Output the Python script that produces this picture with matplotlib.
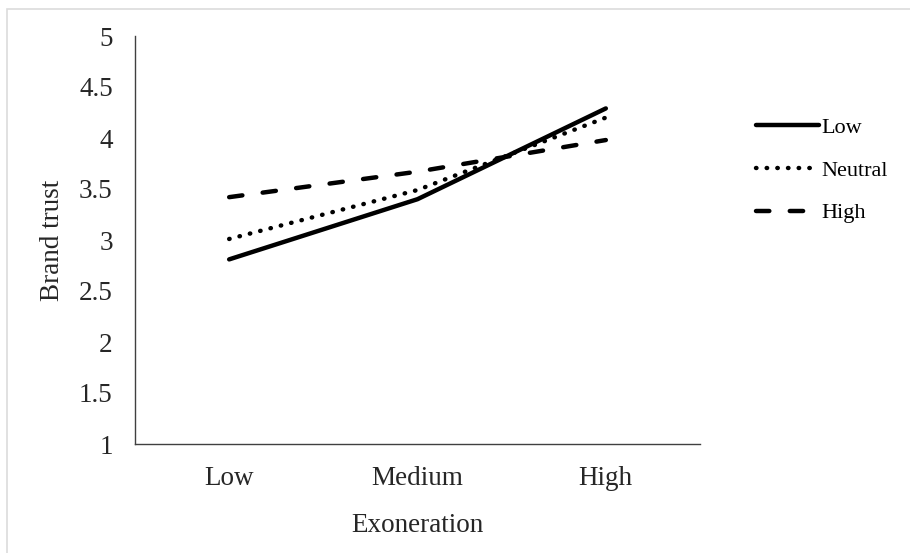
import matplotlib
matplotlib.use("Agg")
import matplotlib.pyplot as plt
from matplotlib.patches import Rectangle

# data
categories = ["Low", "Medium", "High"]
low_vals = [2.81, 3.40, 4.29]
neutral_vals = [3.01, 3.49, 4.20]
high_vals = [3.42, 3.67, 3.98]
series_names = ["Low", "Neutral", "High"]
yticks = [1, 1.5, 2, 2.5, 3, 3.5, 4, 4.5, 5]
ytick_labels = ["1", "1.5", "2", "2.5", "3", "3.5", "4", "4.5", "5"]

plt.rcParams['font.family'] = ['Liberation Serif', 'DejaVu Serif']

fig = plt.figure(figsize=(9.1, 5.53), dpi=100)
ax = fig.add_axes([135/910, 1 - 444/553, (700-135)/910, (444-36)/553])

# light gray frame (cropped at right/bottom)
fig.patches.append(Rectangle((7/910, -0.1), 1.2, (553-9)/553 + 0.1,
                             transform=fig.transFigure, fill=False,
                             edgecolor='#dcdcdc', linewidth=1.2))

x = range(len(categories))
ax.plot(x, low_vals, color='black', lw=3.2, linestyle='-',
        solid_capstyle='round', label=series_names[0])
ax.plot(x, neutral_vals, color='black', lw=3.2, linestyle=(0, (0.1, 2.3)),
        dash_capstyle='round', label=series_names[1])
ax.plot(x, high_vals, color='black', lw=3.2, linestyle=(0, (3.0, 4.6)),
        dash_capstyle='round', label=series_names[2])

ax.set_xlim(-0.5, 2.5)
ax.set_ylim(1, 5)
ax.set_xticks(list(x))
ax.set_xticklabels(categories)
ax.set_yticks(yticks)
ax.set_yticklabels(ytick_labels)
ax.tick_params(axis='both', length=0, labelsize=19.5, colors='#262626')
ax.tick_params(axis='y', pad=16)
ax.tick_params(axis='x', pad=16)

for s in ['top', 'right']:
    ax.spines[s].set_visible(False)
ax.spines['left'].set_color('#404040')
ax.spines['bottom'].set_color('#404040')
ax.spines['left'].set_linewidth(1.0)
ax.spines['bottom'].set_linewidth(1.0)

ax.set_xlabel('Exoneration', fontsize=19.5, color='#262626', labelpad=16)
ax.set_ylabel('Brand trust', fontsize=19.5, color='#262626', labelpad=10)

leg = ax.legend(loc='upper left', bbox_to_anchor=(1.063, 0.85), frameon=False,
                fontsize=16, handlelength=2.85, handletextpad=0.1,
                labelspacing=1.0)

fig.savefig('out.png', dpi=100, facecolor='white')
